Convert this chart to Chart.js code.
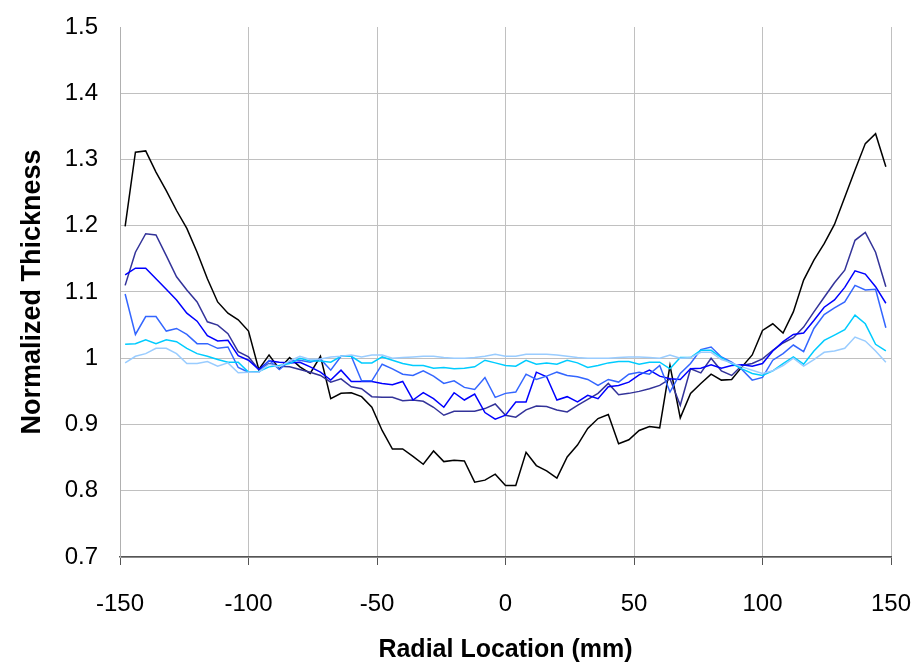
<!DOCTYPE html>
<html>
<head>
<meta charset="utf-8">
<script src="https://cdn.jsdelivr.net/npm/chart.js@4"></script>
<style>
  html, body { margin: 0; padding: 0; background: #fff; }
  #wrap { width: 918px; height: 665px; }
</style>
</head>
<body>
<div id="wrap"><canvas id="thicknessChart" width="918" height="665"></canvas></div>
<script>
// radial positions (mm)
const radius = [
  -148, -144, -140, -136, -132, -128, -124, -120, -116, -112,
  -108, -104, -100, -96, -92, -88, -84, -80, -76, -72,
  -68, -64, -60, -56, -52, -48, -44, -40, -36, -32,
  -28, -24, -20, -16, -12, -8, -4, 0, 4, 8,
  12, 16, 20, 24, 28, 32, 36, 40, 44, 48,
  52, 56, 60, 64, 68, 72, 76, 80, 84, 88,
  92, 96, 100, 104, 108, 112, 116, 120, 124, 128,
  132, 136, 140, 144, 148
];

const blackSeries = [
  1.199, 1.311, 1.313, 1.281, 1.253, 1.223, 1.196, 1.160, 1.120, 1.085,
  1.068, 1.058, 1.041, 0.983, 1.005, 0.984, 1.001, 0.987, 0.977, 1.003,
  0.939, 0.947, 0.948, 0.942, 0.926, 0.891, 0.863, 0.863, 0.852, 0.840,
  0.860, 0.844, 0.846, 0.845, 0.813, 0.816, 0.825, 0.808, 0.808, 0.858,
  0.838, 0.830, 0.819, 0.851, 0.869, 0.894, 0.909, 0.915, 0.871, 0.877,
  0.891, 0.897, 0.895, 0.989, 0.910, 0.947, 0.962, 0.976, 0.967, 0.968,
  0.987, 1.005, 1.042, 1.052, 1.038, 1.070, 1.118, 1.148, 1.173, 1.202,
  1.243, 1.284, 1.324, 1.339, 1.289
];

const slateSeries = [
  1.110, 1.160, 1.188, 1.186, 1.155, 1.123, 1.103, 1.085, 1.055, 1.050,
  1.037, 1.010, 1.002, 0.983, 0.992, 0.988, 0.987, 0.983, 0.979, 0.974,
  0.964, 0.969, 0.957, 0.954, 0.942, 0.941, 0.941, 0.936, 0.937, 0.935,
  0.926, 0.914, 0.920, 0.920, 0.920, 0.924, 0.931, 0.914, 0.911, 0.922,
  0.928, 0.927, 0.922, 0.919, 0.929, 0.938, 0.947, 0.962, 0.945, 0.947,
  0.950, 0.954, 0.959, 0.969, 0.929, 0.984, 0.978, 1.000, 0.981, 0.974,
  0.989, 0.992, 0.999, 1.012, 1.023, 1.031, 1.047, 1.070, 1.092, 1.114,
  1.133, 1.178, 1.190, 1.160, 1.108
];

const blueSeries = [
  1.126, 1.136, 1.136, 1.120, 1.104, 1.088, 1.068, 1.056, 1.034, 1.026,
  1.027, 1.004, 0.997, 0.983, 0.996, 0.994, 0.993, 0.994, 0.987, 0.979,
  0.967, 0.982, 0.965, 0.965, 0.965, 0.962, 0.960, 0.965, 0.937, 0.948,
  0.939, 0.926, 0.948, 0.937, 0.946, 0.918, 0.908, 0.914, 0.934, 0.934,
  0.979, 0.972, 0.937, 0.942, 0.934, 0.944, 0.939, 0.957, 0.959, 0.964,
  0.975, 0.982, 0.973, 0.969, 0.968, 0.984, 0.985, 0.990, 0.985, 0.989,
  0.990, 0.988, 0.992, 1.011, 1.025, 1.036, 1.038, 1.057, 1.077, 1.088,
  1.107, 1.132, 1.127, 1.108, 1.083
];

const royalSeries = [
  1.097, 1.036, 1.063, 1.063, 1.041, 1.045, 1.036, 1.022, 1.022, 1.015,
  1.017, 0.986, 0.979, 0.979, 0.997, 0.983, 0.996, 0.997, 0.994, 0.999,
  0.982, 1.003, 1.003, 0.966, 0.966, 0.991, 0.984, 0.976, 0.974, 0.981,
  0.973, 0.962, 0.966, 0.956, 0.953, 0.971, 0.941, 0.947, 0.949, 0.976,
  0.968, 0.973, 0.979, 0.974, 0.972, 0.968, 0.959, 0.968, 0.964, 0.976,
  0.979, 0.976, 0.989, 0.949, 0.977, 0.992, 1.013, 1.017, 1.002, 0.994,
  0.983, 0.967, 0.971, 0.997, 1.007, 1.020, 1.010, 1.045, 1.066, 1.076,
  1.085, 1.110, 1.103, 1.104, 1.046
];

const cyanSeries = [
  1.021, 1.022, 1.028, 1.022, 1.028, 1.025, 1.015, 1.007, 1.003, 0.998,
  0.994, 0.994, 0.979, 0.980, 0.987, 0.989, 0.992, 1.000, 0.996, 0.996,
  0.994, 1.003, 1.003, 0.993, 0.993, 1.002, 0.997, 0.992, 0.989, 0.989,
  0.985, 0.986, 0.984, 0.985, 0.987, 0.997, 0.993, 0.989, 0.988, 0.997,
  0.991, 0.993, 0.991, 0.997, 0.993, 0.986, 0.989, 0.993, 0.995, 0.995,
  0.991, 0.994, 0.994, 0.984, 1.001, 1.001, 1.012, 1.012, 1.001, 0.992,
  0.984, 0.977, 0.974, 0.981, 0.992, 1.002, 0.991, 1.011, 1.027, 1.035,
  1.043, 1.065, 1.052, 1.021, 1.011
];

const lightSeries = [
  0.993, 1.003, 1.007, 1.015, 1.015, 1.007, 0.992, 0.992, 0.995, 0.988,
  0.993, 0.978, 0.979, 0.979, 0.991, 0.987, 0.996, 1.003, 0.998, 0.999,
  1.002, 1.003, 1.005, 1.002, 1.005, 1.005, 1.000, 1.001, 1.002, 1.003,
  1.003, 1.001, 1.000, 1.000, 1.001, 1.003, 1.006, 1.003, 1.003, 1.006,
  1.006, 1.006, 1.005, 1.003, 1.001, 1.000, 1.000, 1.000, 1.001, 1.002,
  1.002, 1.001, 1.000, 1.005, 1.000, 1.001, 1.009, 1.009, 0.998, 0.993,
  0.987, 0.982, 0.977, 0.981, 0.989, 1.000, 0.988, 0.998, 1.009, 1.011,
  1.015, 1.032, 1.026, 1.011, 0.994
];

const seriesList = [
  { values: lightSeries, color: '#99ccff' },
  { values: cyanSeries, color: '#00ccff' },
  { values: royalSeries, color: '#3366ff' },
  { values: blueSeries, color: '#0000ff' },
  { values: slateSeries, color: '#333399' },
  { values: blackSeries, color: '#000000' }
];

const fontFamily = '"Liberation Sans", Arial, Helvetica, sans-serif';

// kill the automatic label overhang so the plot area sits where the layout padding says
function noOverhang(scale) {
  scale.paddingLeft = 0;
  scale.paddingRight = 0;
  scale.paddingTop = 0;
  scale.paddingBottom = 0;
}

const ctx = document.getElementById('thicknessChart').getContext('2d');

new Chart(ctx, {
  type: 'line',
  data: {
    datasets: seriesList.map(s => ({
      data: radius.map((r, i) => ({ x: r, y: s.values[i] })),
      borderColor: s.color,
      backgroundColor: s.color,
      borderWidth: 1.5,
      pointRadius: 0,
      fill: false,
      tension: 0
    }))
  },
  options: {
    responsive: false,
    animation: false,
    devicePixelRatio: 1,
    layout: { padding: { top: 27, right: 27, left: 0, bottom: 0 } },
    plugins: {
      legend: { display: false },
      tooltip: { enabled: false }
    },
    scales: {
      x: {
        type: 'linear',
        min: -150,
        max: 150,
        ticks: {
          stepSize: 50,
          color: '#000',
          padding: 25,
          maxRotation: 0,
          font: { family: fontFamily, size: 24 }
        },
        grid: {
          color: '#c0c0c0',
          lineWidth: 1,
          drawTicks: true,
          tickLength: 8,
          tickColor: '#555'
        },
        border: { color: '#555', width: 1.5 },
        title: {
          display: true,
          text: 'Radial Location (mm)',
          color: '#000',
          padding: { top: 2, bottom: 0 },
          font: { family: fontFamily, size: 25, weight: 'bold' }
        },
        afterFit: scale => { scale.height = 108; noOverhang(scale); }
      },
      y: {
        min: 0.7,
        max: 1.5,
        ticks: {
          stepSize: 0.1,
          color: '#000',
          padding: 22,
          font: { family: fontFamily, size: 24 },
          callback: v => Number(v.toFixed(1)).toString()
        },
        grid: {
          color: c => (Math.abs(c.tick.value - 1.5) < 1e-6 ? 'rgba(0,0,0,0)' : '#c0c0c0'),
          lineWidth: 1,
          drawTicks: false
        },
        border: { color: '#b0b0b0', width: 1 },
        title: {
          display: true,
          text: 'Normalized Thickness',
          color: '#000',
          padding: { top: 16, bottom: 0 },
          font: { family: fontFamily, size: 27, weight: 'bold' }
        },
        afterFit: scale => { scale.width = 120; noOverhang(scale); }
      }
    }
  }
});
</script>
</body>
</html>
